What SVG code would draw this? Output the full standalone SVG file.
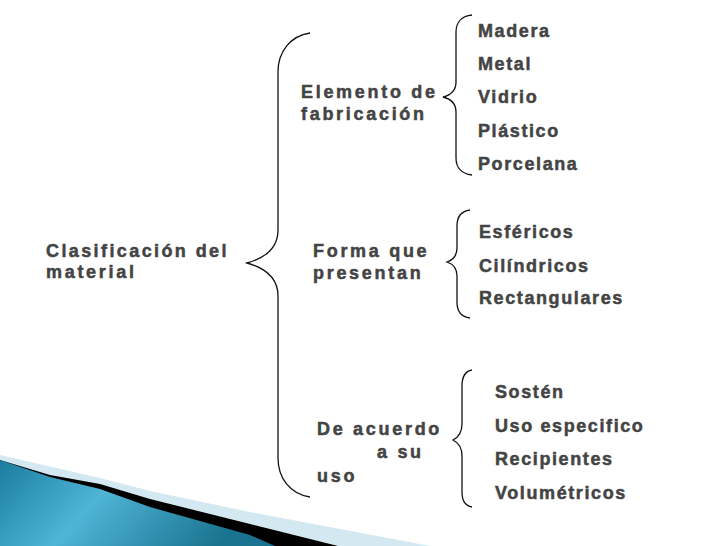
<svg xmlns="http://www.w3.org/2000/svg" width="728" height="546" viewBox="0 0 728 546">
<defs>
<linearGradient id="teal" x1="0" y1="0" x2="1" y2="0.3">
<stop offset="0" stop-color="#1a7d9f"/>
<stop offset="0.45" stop-color="#4fb4d6"/>
<stop offset="1" stop-color="#1a7390"/>
</linearGradient>
<style>
.t{font-family:"Liberation Sans",Arial,sans-serif;font-weight:bold;font-size:18px;letter-spacing:1.6px;fill:#444;stroke:#444;stroke-width:0.5}
.m{letter-spacing:2.7px}
.b{fill:none;stroke:#111;stroke-width:1.3}
</style>
</defs>
<rect width="728" height="546" fill="#fff"/>
<g id="decoration">
<path d="M0,455 L100,478 L150,491 L250,512 L430,546 L0,546 Z" fill="#d3e8f0"/>
<path d="M50,475 L100,484 L150,499 L250,524 L338,546 L0,546 L0,460 Z" fill="#000"/>
<path d="M0,460 L50,477 L100,489 L150,507 L250,535 L275,546 L0,546 Z" fill="url(#teal)"/>
</g>
<g id="connectors">
<path class="b" d="M310,33 C290,36 278,52 278,72 L278,230 C278,248 265,258 247,263 C265,268 278,278 278,296 L278,458 C278,478 290,494 310,497"/>
<path class="b" d="M472,15 C462,16 456,22 456,32 L456,82 C456,90 451,95 443,97 C451,99 456,104 456,112 L456,158 C456,168 462,174 472,175"/>
<path class="b" d="M470,210 C462,211 457,216 457,226 L457,248 C457,256 453,260 447,262 C453,264 457,268 457,276 L457,302 C457,312 462,317 470,318"/>
<path class="b" d="M472,370 C466,371 462,376 462,386 L462,424 C462,432 459,437 453,440 C459,443 462,448 462,456 L462,492 C462,502 466,506 472,507"/>
</g>
<g id="root"><text class="t" x="46" y="257" style="letter-spacing:2.4px">Clasificación del</text><text class="t m" x="46" y="278">material</text></g>
<g id="elemento"><text class="t m" x="301" y="98">Elemento de</text><text class="t m" x="301" y="120">fabricación</text></g>
<g id="forma"><text class="t m" x="313" y="257">Forma que</text><text class="t m" x="313" y="279">presentan</text></g>
<g id="uso"><text class="t m" x="317" y="435">De acuerdo</text><text class="t m" x="377" y="458">a su</text><text class="t m" x="317" y="482">uso</text></g>
<g id="madera"><text class="t" x="478" y="37">Madera</text></g>
<g id="metal"><text class="t" x="478" y="70">Metal</text></g>
<g id="vidrio"><text class="t" x="478" y="103">Vidrio</text></g>
<g id="plastico"><text class="t" x="478" y="137">Plástico</text></g>
<g id="porcelana"><text class="t" x="478" y="170">Porcelana</text></g>
<g id="esfericos"><text class="t" x="479" y="238">Esféricos</text></g>
<g id="cilindricos"><text class="t" x="479" y="272">Cilíndricos</text></g>
<g id="rectangulares"><text class="t" x="479" y="304">Rectangulares</text></g>
<g id="sosten"><text class="t" x="495" y="398">Sostén</text></g>
<g id="usoesp"><text class="t" x="495" y="432">Uso especifico</text></g>
<g id="recipientes"><text class="t" x="495" y="465">Recipientes</text></g>
<g id="volumetricos"><text class="t" x="495" y="499">Volumétricos</text></g>
</svg>
